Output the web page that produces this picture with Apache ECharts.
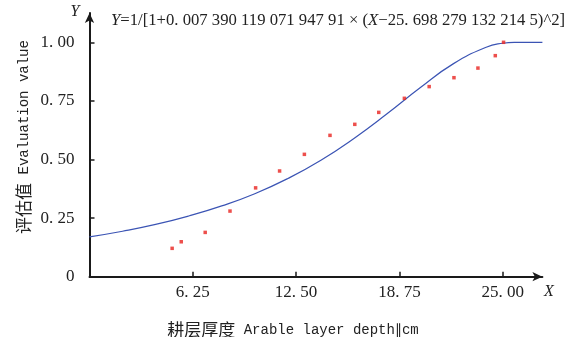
<!DOCTYPE html>
<html>
<head>
<meta charset="utf-8">
<script src="https://cdn.jsdelivr.net/npm/echarts@6/dist/echarts.min.js"></script>
<style>html,body{margin:0;padding:0;background:#fff;}#c{width:576px;height:337px;}</style>
</head>
<body>
<div id="c"></div>
<script>
const obsX = [5.0, 5.55, 7.0, 8.5, 10.05, 11.5, 13.0, 14.55, 16.05, 17.5, 19.05, 20.55, 22.05, 23.5, 24.55, 25.05];
const obsY = [0.121, 0.149, 0.189, 0.280, 0.379, 0.451, 0.522, 0.603, 0.650, 0.701, 0.761, 0.811, 0.849, 0.890, 0.943, 1.0];
// Fitted curve
const fitX = [0, 2, 4, 6, 8, 10, 12, 14, 16, 18, 20, 22, 24, 25, 25.7, 27.4];
const fitY = [0.170, 0.194, 0.223, 0.259, 0.302, 0.354, 0.419, 0.497, 0.590, 0.695, 0.806, 0.908, 0.979, 0.996, 1.0, 1.0];
// Tick values
const xTicks = [6.25, 12.5, 18.75, 25];
const yTicks = [0, 0.25, 0.5, 0.75, 1];

const fmt = v => v === 0 ? '0' : v.toFixed(2).replace('.', '. ');

const chart = echarts.init(document.getElementById('c'), null, {renderer: 'canvas'});
const axisColor = '#1a1a1a';
chart.setOption({
  backgroundColor: '#fff',
  animation: false,
  grid: {left: 89.5, right: 33.6, top: 13, bottom: 60.3},
  xAxis: {
    type: 'value', min: 0, max: 27.4,
    splitLine: {show: false},
    axisLine: {lineStyle: {color: axisColor, width: 2}, symbol: ['none', 'arrow'], symbolSize: [7, 10]},
    axisTick: {inside: true, length: 5, lineStyle: {width: 1.5, color: axisColor}, customValues: xTicks},
    axisLabel: {customValues: xTicks, formatter: fmt, color: '#222', fontFamily: 'Liberation Serif', fontSize: 17, margin: 7}
  },
  yAxis: {
    type: 'value', min: 0, max: 1.125,
    splitLine: {show: false},
    axisLine: {lineStyle: {color: axisColor, width: 2}, symbol: ['none', 'arrow'], symbolSize: [7, 10]},
    axisTick: {inside: true, length: 5, lineStyle: {width: 1.5, color: axisColor}, customValues: yTicks.slice(1)},
    axisLabel: {customValues: yTicks, formatter: fmt, color: '#222', fontFamily: 'Liberation Serif', fontSize: 17, margin: 15}
  },
  series: [
    {
      type: 'line', smooth: true, symbol: 'none',
      data: fitX.map((x, i) => [x, fitY[i]]),
      lineStyle: {color: '#3b54b4', width: 1.2},
      z: 2
    },
    {
      type: 'scatter', symbol: 'rect', symbolSize: 3.5,
      data: obsX.map((x, i) => [x, obsY[i]]),
      itemStyle: {color: '#e8231f'},
      z: 3
    }
  ],
  graphic: [
    {type: 'text', x: 75, y: 12, style: {text: 'Y', font: 'italic 16px "Liberation Serif"', fill: '#222', align: 'center', verticalAlign: 'middle'}},
    {type: 'text', x: 549, y: 292, style: {text: 'X', font: 'italic 16px "Liberation Serif"', fill: '#222', align: 'center', verticalAlign: 'middle'}},
    {type: 'text', x: 111, y: 21, style: {
      text: '{i|Y}=1/[1+0. 007 390 119 071 947 91 × ({i|X}−25. 698 279 132 214 5)^2]',
      font: '16.7px "Liberation Serif"', fill: '#222', align: 'left', verticalAlign: 'middle',
      rich: {i: {fontStyle: 'italic', fontFamily: 'Liberation Serif', fontSize: 16.7}}
    }},
    {type: 'text', x: 24, y: 137, rotation: Math.PI / 2, style: {
      text: '{cn|评估值}{en| Evaluation value}',
      fill: '#222', align: 'center', verticalAlign: 'middle',
      rich: {cn: {fontFamily: 'Noto Sans CJK SC', fontSize: 17}, en: {fontFamily: 'Liberation Mono', fontSize: 14}}
    }},
    {type: 'text', x: 293, y: 330, style: {
      text: '{cn|耕层厚度}{en| Arable layer depth∥cm}',
      fill: '#222', align: 'center', verticalAlign: 'middle',
      rich: {cn: {fontFamily: 'Noto Sans CJK SC', fontSize: 17}, en: {fontFamily: 'Liberation Mono', fontSize: 14}}
    }}
  ]
});
</script>
</body>
</html>
